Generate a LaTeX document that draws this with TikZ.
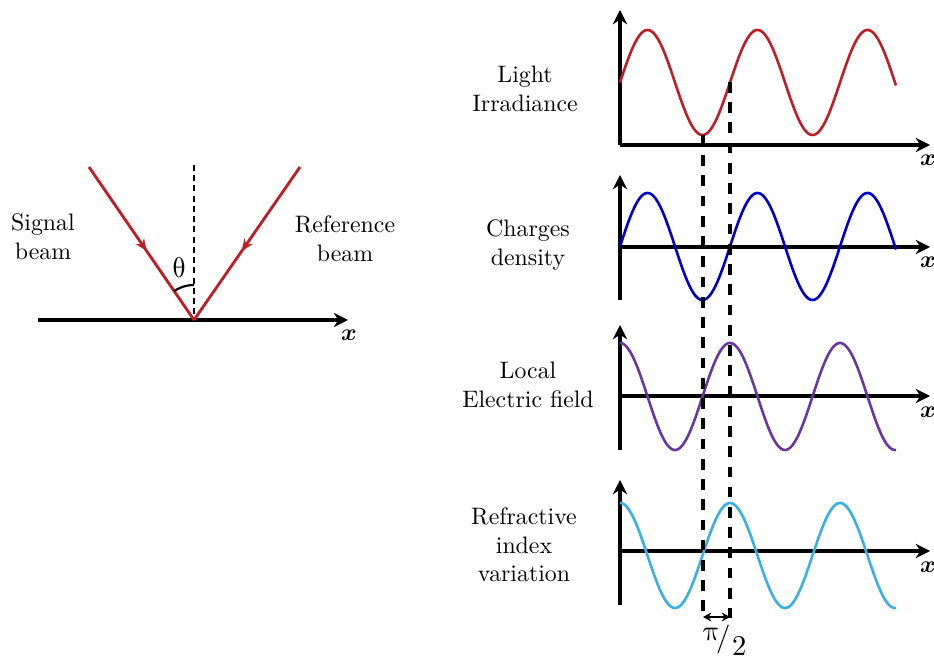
\documentclass[tikz,border=0pt]{standalone}
\usepackage{unicode-math}
\setmathfont{Latin Modern Math}
\usetikzlibrary{arrows.meta,decorations.markings}
\definecolor{beamred}{RGB}{190,30,38}
\definecolor{wblue}{RGB}{0,0,205}
\definecolor{wpurple}{RGB}{105,55,160}
\definecolor{wcyan}{RGB}{56,176,226}
\begin{document}
\begin{tikzpicture}[x=0.42pt,y=-0.42pt,
  axis/.style={line width=1.3pt,-{Stealth[length=6pt,width=6pt]}},
  wave/.style={line width=1.1pt,samples=220,smooth},
  guide/.style={line width=1.3pt,dash pattern=on 4.5pt off 4pt},
  normalline/.style={line width=0.9pt,dash pattern=on 2.5pt off 1.8pt},
  beam/.style={line width=1.2pt,beamred,
    postaction={decorate},
    decoration={markings,mark=at position 0.55 with {\arrow{Stealth[length=5pt,width=4.2pt]}}}},
  lbl/.style={align=center,font=\normalsize,inner sep=0pt},
  xl/.style={inner sep=0pt}]
\useasboundingbox (0,0) rectangle (934,659);
% ---------- left diagram ----------
\coordinate (ax0) at (38,320);
\coordinate (ax1) at (348,320);
\coordinate (O) at (194,320);
\coordinate (N) at (194,165);
\coordinate (S) at (89,167);
\coordinate (R) at (300,167);
\draw[axis] (ax0) -- (ax1);
\draw[normalline] (N) -- (O);
\draw[beam] (S) -- (O);
\draw[beam] (R) -- (O);
\draw[line width=0.9pt] plot[domain=235.5:270,samples=20] ({194+35*cos(\x)},{320+35*sin(\x)});
\node[inner sep=0pt,font=\large] (theta) at (179,268) {$\symup{\theta}$};
\node[xl] (xa) at (349,335) {$\symbfit{x}$};
\node[lbl] (sig) at (43,237) {Signal\\beam};
\node[lbl] (ref) at (345,239) {Reference\\beam};
% ---------- right plots ----------
% plot 1
\coordinate (p1o) at (620,145);
\coordinate (p1y) at (620,10);
\coordinate (p1x) at (930,145);
\draw[axis] (p1o) -- (p1y);
\draw[axis] (p1o) -- (p1x);
\draw[wave,beamred] plot[domain=0:276] ({620+\x},{82.5-52.5*sin(3.272727*\x)});
\node[xl] (x1) at (928,160) {$\symbfit{x}$};
\node[lbl] (l1) at (525,89) {Light\\Irradiance};
% plot 2
\coordinate (p2b) at (620,300);
\coordinate (p2y) at (620,175);
\coordinate (p2o) at (620,247);
\coordinate (p2x) at (930,247);
\draw[axis] (p2b) -- (p2y);
\draw[axis] (p2o) -- (p2x);
\draw[wave,wblue] plot[domain=0:276] ({620+\x},{246.5-53.5*sin(3.272727*\x)});
\node[xl] (x2) at (928,262) {$\symbfit{x}$};
\node[lbl] (l2) at (528,245) {Charges\\density};
% plot 3
\coordinate (p3b) at (620,450);
\coordinate (p3y) at (620,325);
\coordinate (p3o) at (620,396);
\coordinate (p3x) at (930,396);
\draw[axis] (p3b) -- (p3y);
\draw[axis] (p3o) -- (p3x);
\draw[wave,wpurple] plot[domain=0:276] ({620+\x},{396.5-53.5*cos(3.272727*\x)});
\node[xl] (x3) at (928,412) {$\symbfit{x}$};
\node[lbl] (l3) at (528,385) {Local\\Electric field};
% plot 4
\coordinate (p4b) at (620,605);
\coordinate (p4y) at (620,480);
\coordinate (p4o) at (620,551);
\coordinate (p4x) at (930,551);
\draw[axis] (p4b) -- (p4y);
\draw[axis] (p4o) -- (p4x);
\draw[wave,wcyan] plot[domain=0:276] ({620+\x},{555.5-52.5*cos(3.272727*\x)});
\node[xl] (x4) at (928,567) {$\symbfit{x}$};
\node[lbl] (l4) at (524,545) {Refractive\\index\\variation};
% ---------- guides ----------
\coordinate (g1t) at (703,135);
\coordinate (g1b) at (703,618);
\coordinate (g2t) at (730,82);
\coordinate (g2b) at (730,618);
\draw[guide] (g1t) -- (g1b);
\draw[guide] (g2t) -- (g2b);
\coordinate (d1) at (703,617);
\coordinate (d2) at (730,617);
\draw[line width=1.1pt,{Stealth[length=3.5pt,width=3.8pt]}-{Stealth[length=3.5pt,width=3.8pt]}] (d1) -- (d2);
\node[inner sep=0pt,font=\large] (phase) at (725,640) {$\raisebox{0.45ex}{$\symup{\pi}$}\mkern-2mu/\mkern1mu\raisebox{-0.75ex}{$2$}$};
\end{tikzpicture}
\end{document}
